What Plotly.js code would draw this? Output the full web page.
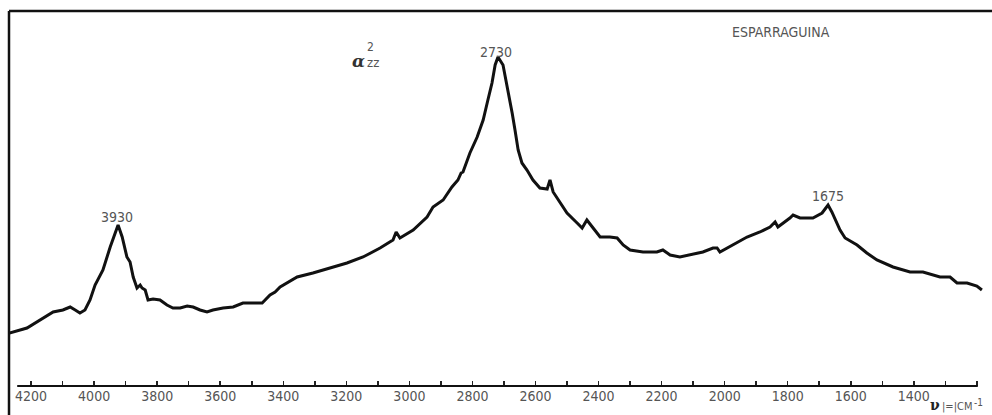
<!DOCTYPE html>
<html>
<head>
<meta charset="utf-8">
<script src="https://cdn.plot.ly/plotly-3.0.1.min.js"></script>
<style>
  html, body { margin: 0; padding: 0; background: #fff; }
  #chart { width: 992px; height: 415px; }
</style>
</head>
<body>
<div id="chart"></div>
<script>
// Raman spectrum of asparagine (ESPARRAGUINA), alpha^2_zz
// wavenumber (cm^-1) and relative intensity (arbitrary units)
const wavenumber = [
  4273, 4267, 4213, 4171, 4130, 4099, 4076, 4060, 4045, 4029,
  4013, 3997, 3972, 3949, 3934, 3924, 3911, 3896, 3886, 3876,
  3864, 3854, 3848, 3838, 3829, 3813, 3791, 3769, 3750, 3727,
  3705, 3686, 3664, 3642, 3623, 3591, 3559, 3528, 3496, 3467,
  3442, 3426, 3410, 3379, 3356, 3306, 3252, 3198, 3147, 3093,
  3052, 3042, 3030, 2988, 2944, 2925, 2893, 2865, 2846, 2836,
  2830, 2808, 2785, 2766, 2751, 2738, 2728, 2719, 2703, 2687,
  2674, 2665, 2655, 2643, 2627, 2608, 2586, 2563, 2554, 2544,
  2522, 2500, 2468, 2452, 2437, 2418, 2395, 2364, 2341, 2322,
  2300, 2259, 2215, 2196, 2173, 2142, 2110, 2069, 2037, 2024,
  2015, 1974, 1929, 1888, 1856, 1840, 1831, 1793, 1783, 1761,
  1720, 1691, 1672, 1660, 1634, 1618, 1580, 1549, 1517, 1466,
  1412, 1371, 1317, 1285, 1263, 1231, 1200, 1184
];
const intensity = [
  54.5, 53.5, 58.5, 66.5, 74.5, 76.5, 79.5, 76.5, 73.5, 76.5,
  86.5, 101.5, 116.5, 139.5, 153.5, 161.5, 149.5, 129.5, 124.5, 109.5,
  98.5, 101.5, 98.5, 96.5, 86.5, 87.5, 86.5, 81.5, 78.5, 78.5,
  80.5, 79.5, 76.5, 74.5, 76.5, 78.5, 79.5, 83.5, 83.5, 83.5,
  91.5, 94.5, 99.5, 105.5, 109.5, 113.5, 118.5, 123.5, 129.5, 138.5,
  146.5, 154.5, 148.5, 156.5, 169.5, 179.5, 186.5, 199.5, 206.5, 213.5,
  214.5, 233.5, 249.5, 266.5, 286.5, 303.5, 321.5, 329.5, 321.5, 296.5,
  273.5, 256.5, 236.5, 223.5, 216.5, 206.5, 198.5, 197.5, 206.5, 194.5,
  183.5, 173.5, 163.5, 158.5, 166.5, 158.5, 149.5, 149.5, 148.5, 141.5,
  136.5, 134.5, 134.5, 136.5, 131.5, 129.5, 131.5, 134.5, 138.5, 138.5,
  134.5, 141.5, 149.5, 154.5, 159.5, 164.5, 159.5, 168.5, 171.5, 168.5,
  168.5, 173.5, 181.5, 174.5, 156.5, 148.5, 141.5, 133.5, 126.5, 119.5,
  114.5, 114.5, 109.5, 109.5, 103.5, 103.5, 100.5, 96.5
];
const tickValues = [4200, 4000, 3800, 3600, 3400, 3200, 3000, 2800, 2600, 2400, 2200, 2000, 1800, 1600, 1400];
const tickLabels = ['4200', '4000', '3800', '3600', '3400', '3200', '3000', '2800', '2600', '2400', '2200', '2000', '1800', '1600', '1400'];
const peakLabels = ['3930', '2730', '1675'];
const peakLabelX = [3927, 2725, 1672];
const peakLabelY = [169.5, 334.5, 190.5];
const sampleName = 'ESPARRAGUINA';

const FONT = 'Liberation Sans Narrow, DejaVu Sans Condensed, Arial Narrow, sans-serif';
const GREY = '#555';

const trace = {
  x: wavenumber,
  y: intensity,
  type: 'scatter',
  mode: 'lines',
  line: { color: '#111', width: 3 },
  hoverinfo: 'x+y',
  showlegend: false
};

const annotations = peakLabels.map((t, i) => ({
  x: peakLabelX[i], y: peakLabelY[i], xref: 'x', yref: 'y',
  text: t, showarrow: false,
  font: { family: FONT, size: 14, color: GREY },
  xanchor: 'center', yanchor: 'middle'
}));
annotations.push(
  { x: 1821, y: 354.5, xref: 'x', yref: 'y', text: sampleName, showarrow: false,
    font: { family: FONT, size: 14, color: GREY }, xanchor: 'center', yanchor: 'middle' },
  { x: 3163, y: 325.5, xref: 'x', yref: 'y', text: 'α', showarrow: false,
    font: { family: 'DejaVu Serif, serif', size: 17, color: '#333', style: 'italic', weight: 'bold' },
    xanchor: 'center', yanchor: 'middle' },
  { x: 3122, y: 339.5, xref: 'x', yref: 'y', text: '2', showarrow: false,
    font: { family: FONT, size: 12, color: GREY }, xanchor: 'center', yanchor: 'middle' },
  { x: 3115, y: 324.5, xref: 'x', yref: 'y', text: 'zz', showarrow: false,
    font: { family: FONT, size: 13, color: GREY }, xanchor: 'center', yanchor: 'middle' },
  { x: 0.936, y: -0.0747, xref: 'paper', yref: 'paper', text: 'ν', showarrow: false,
    font: { family: 'DejaVu Serif, serif', size: 14, color: '#222', weight: 'bold' },
    xanchor: 'left', yanchor: 'bottom', borderpad: 0 },
  { x: 0.948, y: -0.0747, xref: 'paper', yref: 'paper', text: '|=|CM', showarrow: false,
    font: { family: FONT, size: 11, color: GREY }, xanchor: 'left', yanchor: 'bottom', borderpad: 0 },
  { x: 0.9807, y: -0.0267, xref: 'paper', yref: 'paper', text: '-1', showarrow: false,
    font: { family: FONT, size: 10, color: GREY }, xanchor: 'left', yanchor: 'top', borderpad: 0 }
);

const layout = {
  width: 992, height: 415,
  margin: { l: 9, r: 0, t: 11, b: 29, pad: 0 },
  paper_bgcolor: '#fff', plot_bgcolor: '#fff',
  showlegend: false,
  xaxis: {
    range: [4270, 1152],
    showgrid: false, zeroline: false, showline: false,
    tickmode: 'array', tickvals: tickValues, ticktext: tickLabels,
    ticks: 'inside', ticklen: 5, tickwidth: 1.5, tickcolor: '#222',
    tickfont: { family: FONT, size: 14, color: GREY },
    minor: { tickmode: 'linear', tick0: 0, dtick: 100, ticks: 'inside', ticklen: 5, tickwidth: 1.5, tickcolor: '#222' }
  },
  yaxis: {
    range: [0.5, 375.5],
    showgrid: false, zeroline: false, showline: false,
    showticklabels: false, ticks: ''
  },
  shapes: [
    { type: 'line', xref: 'x', yref: 'paper', x0: 4244, x1: 1197, y0: 0, y1: 0,
      line: { color: '#111', width: 2 } },
    { type: 'line', xref: 'paper', yref: 'paper', x0: 0, x1: 0, y0: -0.1, y1: 1,
      line: { color: '#111', width: 2.5 } },
    { type: 'line', xref: 'paper', yref: 'paper', x0: 0, x1: 1.01, y0: 1, y1: 1,
      line: { color: '#111', width: 2.5 } }
  ],
  annotations: annotations
};

Plotly.newPlot('chart', [trace], layout, { displayModeBar: false, staticPlot: true });
</script>
</body>
</html>
